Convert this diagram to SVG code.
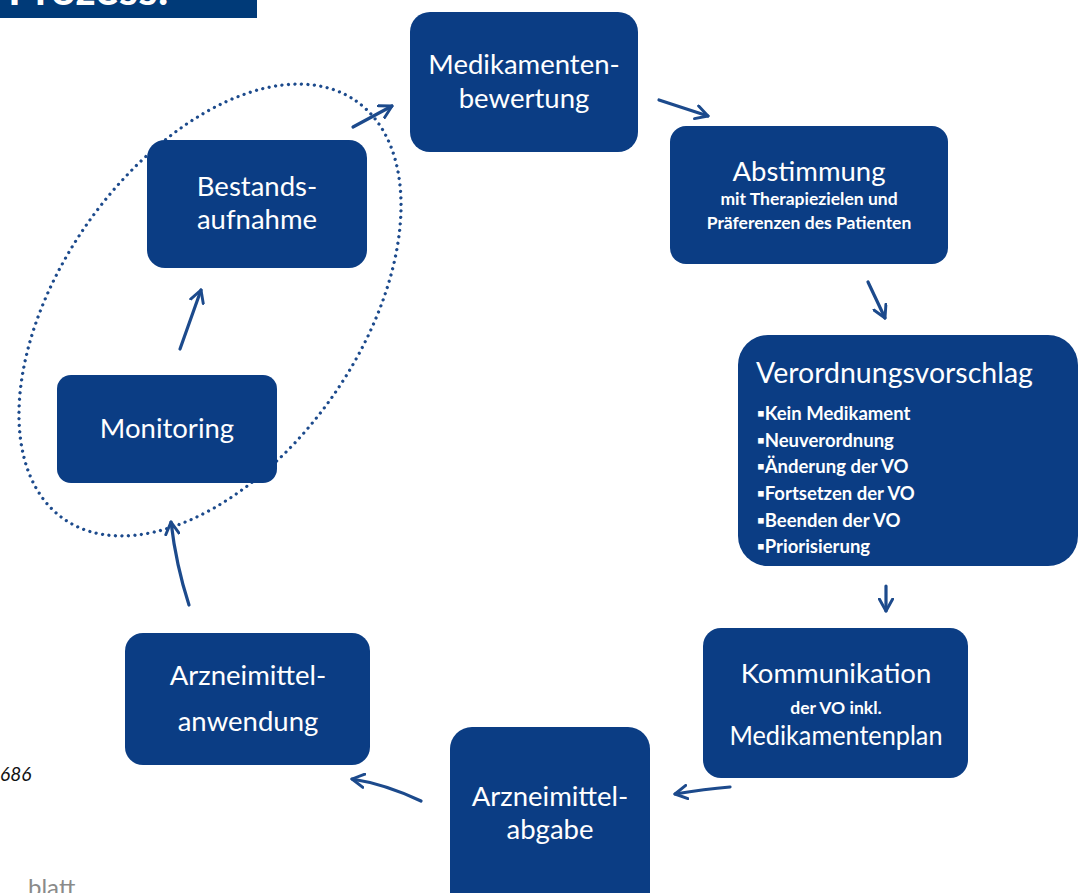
<svg xmlns="http://www.w3.org/2000/svg" width="1081" height="893" viewBox="0 0 1081 893">
<defs>
<style>
.box{fill:#0b3d84;}
.t{fill:#ffffff;font-family:Lato,"Open Sans",sans-serif;text-anchor:middle;}
.big{font-size:27.5px;}
.sm{font-size:17.5px;font-weight:bold;}
.bl{fill:#ffffff;font-family:Lato,"Open Sans",sans-serif;font-size:18.5px;font-weight:bold;}
.arr{fill:none;stroke:#1c4a8c;stroke-width:3.2;stroke-linecap:round;stroke-linejoin:round;}
</style>
<marker id="head" viewBox="0 0 12 12" refX="10" refY="6" markerWidth="5" markerHeight="5" orient="auto" markerUnits="strokeWidth">
<path d="M1,1 L10,6 L1,11" fill="none" stroke="#1c4a8c" stroke-width="2.2" stroke-linecap="round" stroke-linejoin="round"/>
</marker>
</defs>
<rect x="0" y="0" width="1081" height="893" fill="#ffffff"/>
<g id="banner">
<rect x="0" y="0" width="257" height="18" fill="#003a78"/>
<text x="8" y="5" fill="#ffffff" font-family="Lato, sans-serif" font-size="44" font-weight="bold">Prozess:</text>
</g>
<g id="side-texts">
<text x="0" y="781" fill="#111111" font-family="Lato, sans-serif" font-style="italic" font-size="19">686</text>
<text x="28" y="896" fill="#8a8a8a" font-family="Lato, sans-serif" font-size="24">blatt</text>
</g>
<g id="loop">
<ellipse cx="210" cy="310" rx="255" ry="150" transform="rotate(-55 210 310)" fill="none" stroke="#1c4a8c" stroke-width="3.2" stroke-linecap="round" stroke-dasharray="0 6.5"/>
</g>
<g id="connectors">
<path class="arr" marker-end="url(#head)" d="M353,127 L392,106"/>
<path class="arr" marker-end="url(#head)" d="M659,100 L708,116"/>
<path class="arr" marker-end="url(#head)" d="M868,282 L885,318"/>
<path class="arr" marker-end="url(#head)" d="M886,586 L886,611"/>
<path class="arr" marker-end="url(#head)" d="M730,787 Q705,789 675,794"/>
<path class="arr" marker-end="url(#head)" d="M421,801 Q385,784 352,779"/>
<path class="arr" marker-end="url(#head)" d="M189,605 Q176,565 171,522"/>
<path class="arr" marker-end="url(#head)" d="M180,349 L201,290"/>
</g>
<g id="medikamentenbewertung">
<rect class="box" x="410" y="12" width="228" height="140" rx="20"/>
<text class="t big" x="524" y="74">Medikamenten-</text>
<text class="t big" x="524" y="108">bewertung</text>
</g>
<g id="abstimmung">
<rect class="box" x="670" y="126" width="278" height="138" rx="16"/>
<text class="t big" x="809" y="181">Abstimmung</text>
<text class="t sm" x="809" y="205">mit Therapiezielen und</text>
<text class="t sm" x="809" y="229">Präferenzen des Patienten</text>
</g>
<g id="verordnungsvorschlag">
<rect class="box" x="738" y="335" width="340" height="231" rx="30"/>
<text x="756" y="383" fill="#ffffff" font-family="Lato, sans-serif" font-size="28.5">Verordnungsvorschlag</text>
<text class="bl" x="757" y="420">▪Kein Medikament</text>
<text class="bl" x="757" y="447">▪Neuverordnung</text>
<text class="bl" x="757" y="473">▪Änderung der VO</text>
<text class="bl" x="757" y="500">▪Fortsetzen der VO</text>
<text class="bl" x="757" y="527">▪Beenden der VO</text>
<text class="bl" x="757" y="553">▪Priorisierung</text>
</g>
<g id="kommunikation">
<rect class="box" x="703" y="628" width="265" height="150" rx="18"/>
<text class="t big" x="836" y="683">Kommunikation</text>
<text class="t sm" x="836" y="714">der VO inkl.</text>
<text class="t big" x="836" y="745" textLength="213" lengthAdjust="spacingAndGlyphs">Medikamentenplan</text>
</g>
<g id="arzneimittelabgabe">
<rect class="box" x="450" y="727" width="200" height="190" rx="22"/>
<text class="t big" x="550" y="806">Arzneimittel-</text>
<text class="t big" x="550" y="839">abgabe</text>
</g>
<g id="arzneimittelanwendung">
<rect class="box" x="125" y="633" width="245" height="132" rx="18"/>
<text class="t big" x="248" y="685">Arzneimittel-</text>
<text class="t big" x="248" y="731">anwendung</text>
</g>
<g id="monitoring">
<rect class="box" x="57" y="375" width="220" height="108" rx="14"/>
<text class="t big" x="167" y="438">Monitoring</text>
</g>
<g id="bestandsaufnahme">
<rect class="box" x="147" y="140" width="220" height="128" rx="18"/>
<text class="t big" x="257" y="196">Bestands-</text>
<text class="t big" x="257" y="229">aufnahme</text>
</g>
</svg>
